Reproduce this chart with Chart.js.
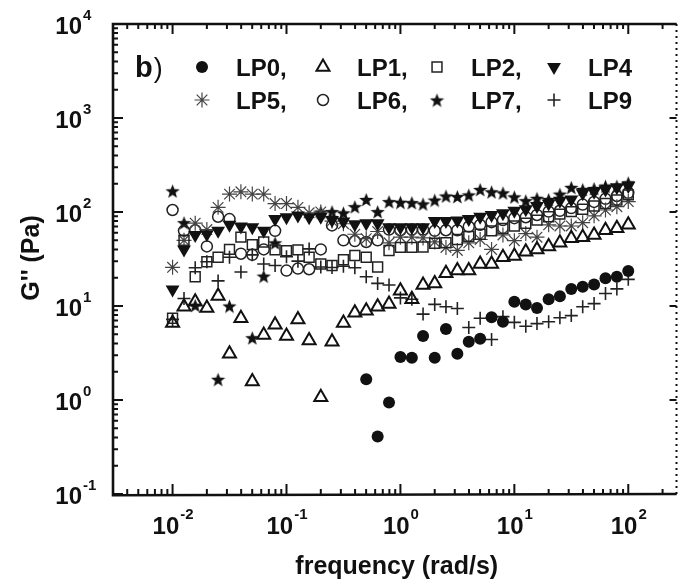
<!DOCTYPE html>
<html>
<head>
<meta charset="utf-8">
<script src="https://cdn.jsdelivr.net/npm/chart.js@4.4.1/dist/chart.umd.min.js"></script>
<style>
  body { margin: 0; background: #fff; }
  canvas { display: block; }
</style>
</head>
<body>
<canvas id="myChart" width="686" height="586"></canvas>
<script>
// frequencies (rad/s), 10 points per decade
const freq = [0.01, 0.0126, 0.0158, 0.02, 0.0251, 0.0316, 0.0398, 0.0501, 0.0631, 0.0794,
  0.1, 0.126, 0.158, 0.2, 0.251, 0.316, 0.398, 0.501, 0.631, 0.794,
  1, 1.26, 1.58, 2, 2.51, 3.16, 3.98, 5.01, 6.31, 7.94,
  10, 12.6, 15.8, 20, 25.1, 31.6, 39.8, 50.1, 63.1, 79.4, 100];

// G'' (Pa) for each sample
const lp0 = [null, null, null, null, null, null, null, null, null, null,
  null, null, null, null, null, null, null, 1.66, 0.41, 0.94,
  2.87, 2.82, 4.8, 2.82, 5.7, 3.1, 4.17, 4.49, 7.6, 6.8,
  11.1, 10.4, 9.5, 11.8, 12.7, 15.2, 16.0, 16.9, 19.7, 20.5, 23.6];
const lp1 = [6.6, 9.8, 11.1, 9.5, 12.8, 3.1, 7.4, 1.57, 4.9, 6.3,
  4.8, 7.2, 4.3, 1.07, 4.17, 6.6, 8.5, 8.9, 9.8, 10.5,
  14.5, 11.8, 16.7, 17.4, 22.3, 23.8, 23.8, 28, 28, 33,
  34, 37.8, 40, 43, 47, 52.6, 54, 57, 64, 67, 73];
const lp2 = [7.4, 50, 20.5, 29.6, 33, 40, 54, 45, 48, 39.5,
  38.7, 39.5, 33, 28, 27, 31, 34.5, 33, 26, 39,
  42, 42, 42.5, 46.5, 47, 51, 55, 58, 63, 67,
  71, 76, 82, 89, 95, 101, 107, 116, 123, 134, 152];
const lp4 = [15, 40, 57, 58, 63, 73, 70, 69, 63, 84,
  88, 92, 88, 89, 82, 79, 74, 76, 76, 69,
  69, 69, 69, 80, 80, 81, 84, 89, 93, 97,
  103, 107, 116, 123, 132, 136, 158, 164, 174, 183, 189];
const lp5 = [25.8, 50, 76, 65, 112, 155, 164, 155, 155, 123,
  123, 112, 98, 100, 80, 75, 58, 52, 62, 47,
  54, 54, 53, 48, 42, 39, 47, 51, 40, 57,
  49.5, 59, 54, 73, 71, 71, 77, 91, 105, 114, 129];
const lp6 = [105, 63, 64, 43, 89, 84, 36, 35, 40, 63,
  23.8, 25, 24.6, 40, 72, 50, 49, 48, 50, 65,
  64, 65, 65, 63, 64, 64, 70, 73, 78, 82,
  86, 88, 93, 101, 103, 110, 120, 128, 138, 148, 160];
const lp7 = [168, 77, 10.2, null, 1.66, 10, null, 4.6, 20.8, 47,
  null, null, null, 100, 101, 98, 114, 136, 101, 129,
  127, 126, 122, 134, 148, 146, 152, 174, 164, 160,
  145, 132, 140, 136, 155, 183, 174, 178, 189, 189, 205];
const lp9 = [7.2, 12, 25.5, 29.6, 18.5, 33, 23, 35, 28, 27,
  33.5, 30, 40.5, 26, 25.7, 26.5, 25.5, 20.5, 17.4, 16.7,
  12.2, 11.8, 8.2, 10.4, 9.8, 9.4, 5.9, 7.4, 4.4, 7.7,
  6.7, 6.1, 6.5, 6.8, 7.5, 7.9, 9.8, 10.6, 13.6, 15.2, 19.2];

const seriesNames = ["LP0", "LP1", "LP2", "LP4", "LP5", "LP6", "LP7", "LP9"];
const seriesValues = [lp0, lp1, lp2, lp4, lp5, lp6, lp7, lp9];
const xTickExp = ["-2", "-1", "0", "1", "2"];
const yTickExp = ["-1", "0", "1", "2", "3", "4"];

function makeStar(size) {
  const c = document.createElement("canvas");
  c.width = c.height = size;
  const g = c.getContext("2d");
  const cx = size / 2, cy = size / 2 + size * 0.06, R = size / 2, r = R * 0.42;
  g.beginPath();
  for (let i = 0; i < 10; i++) {
    const a = -Math.PI / 2 + i * Math.PI / 5;
    const rr = i % 2 ? r : R;
    g.lineTo(cx + rr * Math.cos(a), cy + rr * Math.sin(a));
  }
  g.closePath();
  g.fillStyle = "#111";
  g.fill();
  return c;
}
const starImg = makeStar(15);

// marker look per series
const styles = [
  { pointStyle: "circle", radius: 6, rotation: 0, borderWidth: 0, fill: "#111", stroke: "#111" },
  { pointStyle: "triangle", radius: 7.5, rotation: 0, borderWidth: 2, fill: "rgba(0,0,0,0)", stroke: "#111" },
  { pointStyle: "rect", radius: 7, rotation: 0, borderWidth: 1.5, fill: "rgba(0,0,0,0)", stroke: "#222" },
  { pointStyle: "triangle", radius: 8, rotation: 180, borderWidth: 0, fill: "#111", stroke: "#111" },
  { pointStyle: "star", radius: 7.5, rotation: 0, borderWidth: 1.2, fill: "rgba(0,0,0,0)", stroke: "#444" },
  { pointStyle: "circle", radius: 5.5, rotation: 0, borderWidth: 1.5, fill: "rgba(0,0,0,0)", stroke: "#222" },
  { pointStyle: starImg, radius: 7.5, rotation: 0, borderWidth: 0, fill: "#111", stroke: "#111" },
  { pointStyle: "cross", radius: 6.5, rotation: 0, borderWidth: 1.6, fill: "rgba(0,0,0,0)", stroke: "#222" }
];

const datasets = seriesNames.map((name, i) => ({
  label: name,
  data: freq.map((f, k) => ({ x: f, y: seriesValues[i][k] })).filter(p => p.y !== null),
  showLine: false,
  pointStyle: styles[i].pointStyle,
  pointRadius: styles[i].radius,
  pointRotation: styles[i].rotation,
  pointBorderWidth: styles[i].borderWidth,
  pointBackgroundColor: styles[i].fill,
  pointBorderColor: styles[i].stroke,
  pointHoverRadius: styles[i].radius
}));

const BOLD = "'Liberation Sans', Arial, sans-serif";

const axesPlugin = {
  id: "axesPlugin",
  afterDraw(chart) {
    const ctx = chart.ctx;
    const a = chart.chartArea;
    const xs = chart.scales.x, ys = chart.scales.y;
    ctx.save();
    ctx.strokeStyle = "#111";
    ctx.fillStyle = "#111";

    // frame
    ctx.lineWidth = 2.6;
    ctx.beginPath();
    ctx.moveTo(a.left, a.top); ctx.lineTo(a.right, a.top);
    ctx.moveTo(a.left, a.top - 1.3); ctx.lineTo(a.left, a.bottom + 1.3);
    ctx.lineTo(a.right, a.bottom + 0);
    ctx.stroke();
    ctx.lineWidth = 2;
    ctx.setLineDash([2, 4]);
    ctx.beginPath();
    ctx.moveTo(a.right, a.top); ctx.lineTo(a.right, a.bottom);
    ctx.stroke();
    ctx.setLineDash([]);

    // ticks (inward)
    ctx.lineWidth = 2;
    ctx.beginPath();
    for (let e = -3; e <= 2; e++) {
      for (let m = 1; m <= 9; m++) {
        const v = m * Math.pow(10, e);
        if (v < xs.min || v > xs.max) continue;
        const px = xs.getPixelForValue(v);
        const len = m === 1 ? 10 : 5;
        ctx.moveTo(px, a.bottom); ctx.lineTo(px, a.bottom - len);
        ctx.moveTo(px, a.top); ctx.lineTo(px, a.top + len);
      }
    }
    for (let e = -1; e <= 4; e++) {
      for (let m = 1; m <= 9; m++) {
        const v = m * Math.pow(10, e);
        if (v < ys.min || v > ys.max) continue;
        const py = ys.getPixelForValue(v);
        const len = m === 1 ? 10 : 5;
        ctx.moveTo(a.left, py); ctx.lineTo(a.left + len, py);
        if (m === 1) { ctx.moveTo(a.right, py); ctx.lineTo(a.right - 7, py); }
      }
    }
    ctx.stroke();

    // tick labels
    ctx.textBaseline = "alphabetic";
    xTickExp.forEach(ex => {
      const px = xs.getPixelForValue(Math.pow(10, Number(ex)));
      ctx.font = "bold 24px " + BOLD;
      const w1 = ctx.measureText("10").width;
      ctx.font = "bold 15px " + BOLD;
      const w2 = ctx.measureText(ex).width;
      const x0 = px - (w1 + w2) / 2;
      ctx.font = "bold 24px " + BOLD;
      ctx.textAlign = "left";
      ctx.fillText("10", x0, a.bottom + 40);
      ctx.font = "bold 15px " + BOLD;
      ctx.fillText(ex, x0 + w1 + 1, a.bottom + 25);
    });
    yTickExp.forEach(ex => {
      const py = ys.getPixelForValue(Math.pow(10, Number(ex)));
      ctx.font = "bold 24px " + BOLD;
      ctx.textAlign = "right";
      ctx.fillText("10", 82, py + 10);
      ctx.font = "bold 15px " + BOLD;
      ctx.textAlign = "left";
      ctx.fillText(ex, 83, py - 4);
    });

    // axis titles
    ctx.font = "bold 25px " + BOLD;
    ctx.textAlign = "center";
    ctx.fillText("frequency (rad/s)", (a.left + a.right) / 2 + 2, 574);
    ctx.save();
    ctx.translate(39, 258);
    ctx.rotate(-Math.PI / 2);
    ctx.fillText("G'' (Pa)", 0, 0);
    ctx.restore();

    // panel label and legend
    ctx.textAlign = "left";
    ctx.font = "bold 29px " + BOLD;
    ctx.fillText("b", 135, 77);
    const bw = ctx.measureText("b").width;
    ctx.font = "27px " + BOLD;
    ctx.fillText(")", 135 + bw + 1, 77);

    const colX = [202, 323, 437, 554];
    const rowY = [67, 100];
    seriesNames.forEach((name, i) => {
      const s = styles[i];
      const mx = colX[i % 4], my = rowY[Math.floor(i / 4)];
      ctx.fillStyle = s.fill;
      ctx.strokeStyle = s.stroke;
      ctx.lineWidth = s.borderWidth;
      Chart.helpers.drawPoint(ctx, {
        pointStyle: s.pointStyle, radius: s.radius,
        rotation: s.rotation, borderWidth: s.borderWidth
      }, mx, my);
      ctx.fillStyle = "#111";
      ctx.font = "bold 24px " + BOLD;
      const txt = i === 3 || i === 7 ? name : name + ",";
      ctx.fillText(txt, mx + 34, my + 9);
    });
    ctx.restore();
  }
};

new Chart("myChart", {
  type: "scatter",
  data: { datasets: datasets },
  options: {
    responsive: false,
    animation: false,
    layout: { padding: { left: 113, right: 2, top: 24, bottom: 92 } },
    plugins: { legend: { display: false }, tooltip: { enabled: false } },
    scales: {
      x: { type: "logarithmic", min: 0.003, max: 265, display: false },
      y: { type: "logarithmic", min: 0.1, max: 10000, display: false }
    }
  },
  plugins: [axesPlugin]
});
</script>
</body>
</html>
